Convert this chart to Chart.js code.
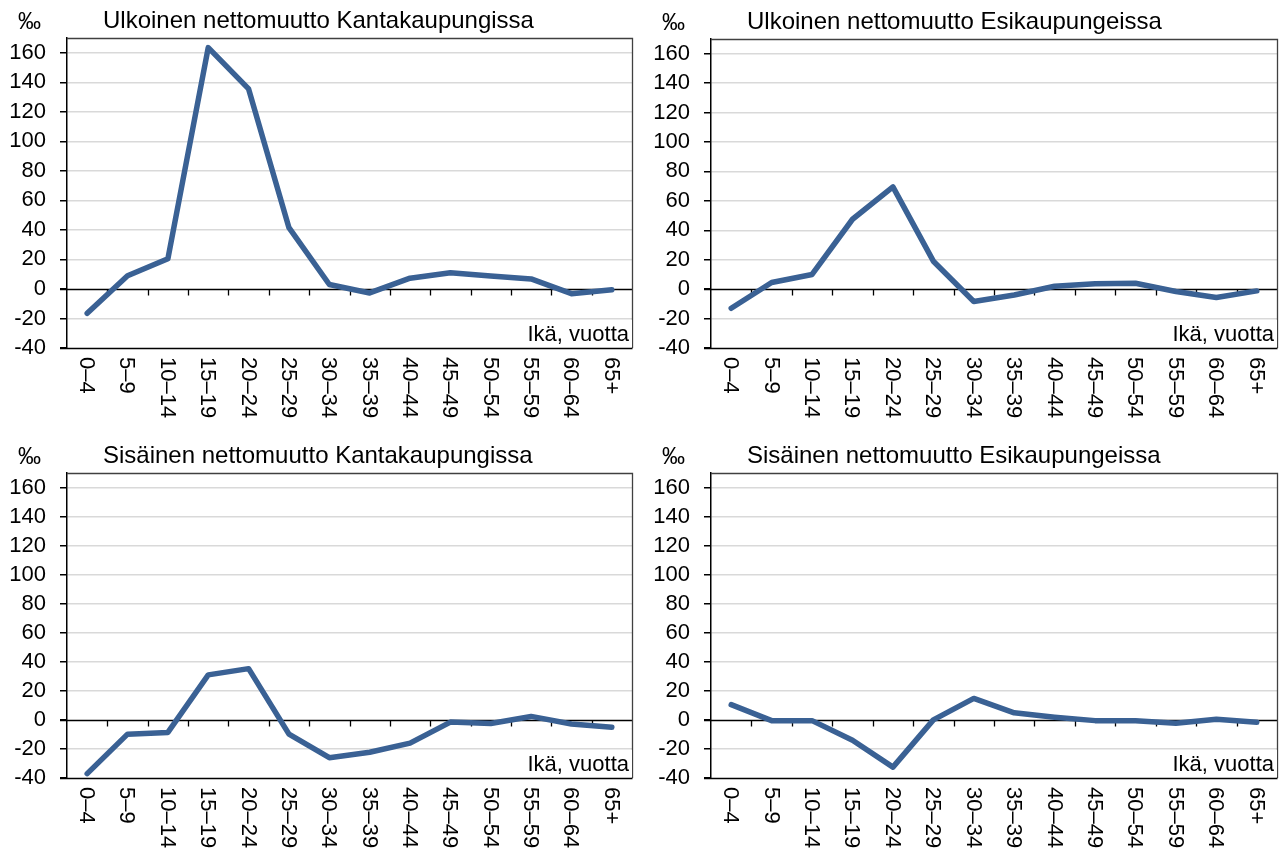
<!DOCTYPE html>
<html>
<head>
<meta charset="utf-8">
<script src="https://cdn.jsdelivr.net/npm/chart.js@4/dist/chart.umd.min.js"></script>
<style>
  body{margin:0;background:#fff;}
  #wrap{position:relative;width:1284px;height:852px;}
  canvas{position:absolute;}
</style>
</head>
<body>
<div id="wrap">
  <canvas id="c1" width="642" height="426" style="left:0;top:0"></canvas>
  <canvas id="c2" width="642" height="426" style="left:642px;top:0"></canvas>
  <canvas id="c3" width="642" height="426" style="left:0;top:426px"></canvas>
  <canvas id="c4" width="642" height="426" style="left:642px;top:426px"></canvas>
</div>
<script>
// age groups and per mille values
const ageGroups = ['0–4','5–9','10–14','15–19','20–24','25–29','30–34','35–39','40–44','45–49','50–54','55–59','60–64','65+'];
const yTicks = [-40,-20,0,20,40,60,80,100,120,140,160];

const ulkoinenKanta = [-16.5,9,20.5,163.5,135.5,41.5,3,-2.7,7.3,11,8.8,6.8,-3.2,-0.5];
const ulkoinenEsi   = [-13,4.5,10,47.5,69.5,19,-8.4,-4,2,3.6,4,-1.6,-5.7,-1.2];
const sisainenKanta = [-37,-9.8,-8.6,31,35.3,-9.8,-26,-22.3,-16,-1.5,-2.5,2.4,-2.8,-5];
const sisainenEsi   = [10.5,-0.5,-0.5,-14,-32.5,0,14.8,4.9,1.9,-0.5,-0.5,-2.3,0.5,-1.6];

const titles = [
  'Ulkoinen nettomuutto Kantakaupungissa',
  'Ulkoinen nettomuutto Esikaupungeissa',
  'Sisäinen nettomuutto Kantakaupungissa',
  'Sisäinen nettomuutto Esikaupungeissa'
];
const unitLabel = '‰';
const xAxisLabel = 'Ikä, vuotta';

const FONT = '"Liberation Sans", Arial, sans-serif';
const lineColor = '#3a6194';

// plot area (left, top, right, bottom) inside each 642x426 canvas
const areas = [
  [67,38,632,348],
  [69,39,635,348],
  [67,47,632,352],
  [69,47,635,352]
];

const panelPlugin = {
  id:'panel',
  beforeDatasetsDraw(chart, args, opts){
    const {ctx, chartArea:a} = chart;
    const x = chart.scales.x, y = chart.scales.y;
    const y0 = Math.round(y.getPixelForValue(0))+0.5;
    ctx.save();
    ctx.strokeStyle = '#000';
    ctx.lineWidth = 1.3;
    ctx.beginPath();
    ctx.moveTo(a.left-7, y0); ctx.lineTo(a.right, y0);
    // tick marks between categories
    for(let i=1;i<ageGroups.length;i++){
      const px = Math.round((x.getPixelForValue(i-1)+x.getPixelForValue(i))/2)+0.5;
      ctx.moveTo(px, y0); ctx.lineTo(px, y0+6);
    }
    ctx.stroke();
    ctx.restore();
  },
  afterDraw(chart, args, opts){
    const {ctx, chartArea:a} = chart;
    const x = chart.scales.x;
    ctx.save();
    // border
    ctx.strokeStyle = '#404040';
    ctx.lineWidth = 1.3;
    ctx.beginPath();
    ctx.moveTo(a.left, a.top+0.5); ctx.lineTo(a.right+0.5, a.top+0.5); ctx.lineTo(a.right+0.5, a.bottom);
    ctx.stroke();
    ctx.strokeStyle = '#000';
    ctx.beginPath();
    ctx.moveTo(a.left-7, a.bottom+0.5); ctx.lineTo(a.right+0.5, a.bottom+0.5);
    ctx.stroke();
    // x axis label box
    ctx.font = '22px '+FONT;
    ctx.textAlign = 'right';
    ctx.textBaseline = 'alphabetic';
    const w = ctx.measureText(xAxisLabel).width;
    ctx.fillStyle = '#fff';
    ctx.fillRect(a.right-w-6, a.bottom-28, w+6, 27);
    ctx.fillStyle = '#000';
    ctx.fillText(xAxisLabel, a.right-3, a.bottom-7);
    // rotated category labels
    ctx.textAlign = 'left';
    ctx.textBaseline = 'middle';
    ageGroups.forEach((g,i)=>{
      ctx.save();
      ctx.translate(x.getPixelForValue(i)-1, a.bottom+9);
      ctx.rotate(Math.PI/2);
      ctx.fillText(g, 0, 0);
      ctx.restore();
    });
    // unit and title
    ctx.textBaseline = 'alphabetic';
    ctx.font = '23px '+FONT;
    ctx.fillText(unitLabel, a.left-49, a.top-9);
    ctx.font = '24px '+FONT;
    ctx.fillText(opts.title, a.left+36, a.top-10);
    ctx.restore();
  }
};

function makeChart(id, values, title, area){
  const cv = document.getElementById(id);
  return new Chart(cv.getContext('2d'), {
    type:'line',
    data:{
      labels: ageGroups,
      datasets:[{
        data: values,
        borderColor: lineColor,
        borderWidth: 5.5,
        borderCapStyle:'round',
        borderJoinStyle:'round',
        pointRadius:0,
        tension:0,
        fill:false
      }]
    },
    options:{
      responsive:false,
      animation:false,
      devicePixelRatio:1,
      layout:{padding:{left:0, top:area[1], right:cv.width-area[2], bottom:cv.height-area[3]}},
      plugins:{legend:{display:false}, tooltip:{enabled:false}, panel:{title:title}},
      scales:{
        x:{
          offset:true,
          ticks:{display:false},
          grid:{display:false},
          border:{display:false},
          afterFit(s){ s.height = 0; }
        },
        y:{
          min:-40, max:170,
          afterBuildTicks(s){ s.ticks = yTicks.map(v=>({value:v})); },
          afterFit(s){ s.width = area[0]; },
          ticks:{
            color:'#000',
            padding:14,
            font:{family:FONT, size:22}
          },
          grid:{
            color:(c)=> (c.tick && (c.tick.value===0 || c.tick.value===-40)) ? 'rgba(0,0,0,0)' : '#d9d9d9',
            lineWidth:1.5,
            tickColor:'#000',
            tickLength:7
          },
          border:{display:true, color:'#000', width:1.5}
        }
      }
    },
    plugins:[panelPlugin]
  });
}

const series = [ulkoinenKanta, ulkoinenEsi, sisainenKanta, sisainenEsi];
['c1','c2','c3','c4'].forEach((id,i)=> makeChart(id, series[i], titles[i], areas[i]));
</script>
</body>
</html>
